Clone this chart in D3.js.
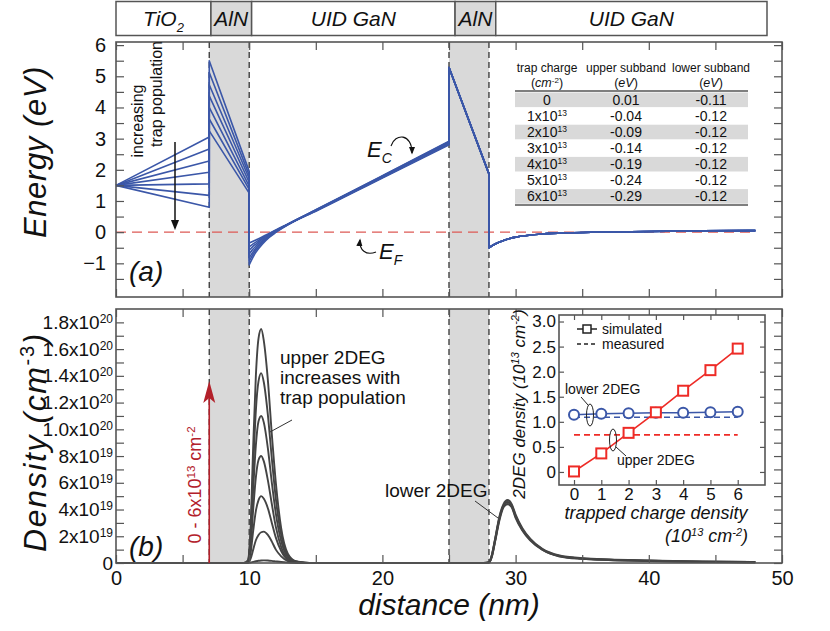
<!DOCTYPE html>
<html>
<head>
<meta charset="utf-8">
<script src="https://cdn.jsdelivr.net/npm/d3@7"></script>
<style>
  body { margin: 0; background: #fff; }
  svg text { font-family: "Liberation Sans", Arial, Helvetica, sans-serif; fill: #111; }
</style>
</head>
<body>
<svg id="chart" width="830" height="631"></svg>
<script>
// ---------- data ----------
const layerNames = ["TiO", "AlN", "UID GaN", "AlN", "UID GaN"];
const layerSubs = ["2", "", "", "", ""];
const layerEdges = [0, 7, 10, 25, 28, 48];
const alnLayers = [[7, 10], [25, 28]];
const interfaces = [7, 10, 25, 28];

// conduction band, one line per trap charge (x10^13 cm^-2)
const trapCharge = [0, 1, 2, 3, 4, 5, 6];
const ecStart = 1.5;
const ecTiO2End = [3.05, 2.67, 2.28, 1.92, 1.55, 1.18, 0.80];
const ecAlNStart = [5.50, 5.12, 4.73, 4.37, 4.00, 3.63, 3.25];
const ecAlNEnd = [1.95, 1.83, 1.72, 1.60, 1.48, 1.37, 1.25];
const xGaN1 = [10, 10.25, 10.5, 11, 11.5, 12, 13, 15, 20, 25];
const ecGaN1 = [
  [-0.35, -0.30, -0.25, -0.15, -0.04, 0.07, 0.28, 0.72, 1.81, 2.92],
  [-0.47, -0.39, -0.32, -0.18, -0.06, 0.06, 0.28, 0.71, 1.80, 2.90],
  [-0.58, -0.47, -0.38, -0.22, -0.08, 0.04, 0.28, 0.70, 1.79, 2.88],
  [-0.70, -0.56, -0.45, -0.26, -0.11, 0.03, 0.27, 0.70, 1.77, 2.86],
  [-0.82, -0.66, -0.52, -0.30, -0.13, 0.02, 0.27, 0.69, 1.76, 2.84],
  [-0.93, -0.74, -0.58, -0.34, -0.15, 0.01, 0.26, 0.68, 1.75, 2.82],
  [-1.05, -0.83, -0.65, -0.38, -0.17, -0.01, 0.26, 0.67, 1.74, 2.80]
];
const xAlN2 = [25, 28];
const ecAlN2 = [5.28, 1.87];
const xGaN2 = [28, 28.5, 29, 29.5, 30, 31, 32, 34, 36, 40, 44, 48];
const ecGaN2 = [-0.50, -0.37, -0.28, -0.21, -0.16, -0.10, -0.06, -0.02, 0.00, 0.02, 0.04, 0.05];

// subband table
const tableCharge = ["0", "1x10", "2x10", "3x10", "4x10", "5x10", "6x10"];
const tableChargeExp = ["", "13", "13", "13", "13", "13", "13"];
const upperSubband = ["0.01", "-0.04", "-0.09", "-0.14", "-0.19", "-0.24", "-0.29"];
const lowerSubband = ["-0.11", "-0.12", "-0.12", "-0.12", "-0.12", "-0.12", "-0.12"];

// electron density (x10^20 cm^-3)
const xDensUpper = [0, 9.6, 9.9, 10.1, 10.3, 10.5, 10.7, 10.9, 11.1, 11.4, 11.7, 12.0, 12.4, 12.9, 13.5, 14.5];
const densUpper = [
  [0, 0, 0, 0.003, 0.008, 0.013, 0.017, 0.019, 0.02, 0.019, 0.016, 0.012, 0.007, 0.003, 0.001, 0],
  [0, 0, 0.002, 0.03, 0.10, 0.17, 0.21, 0.23, 0.235, 0.21, 0.16, 0.10, 0.05, 0.015, 0.003, 0],
  [0, 0, 0.005, 0.07, 0.24, 0.39, 0.47, 0.50, 0.48, 0.41, 0.30, 0.19, 0.09, 0.025, 0.005, 0],
  [0, 0, 0.008, 0.12, 0.40, 0.64, 0.77, 0.80, 0.76, 0.62, 0.44, 0.27, 0.12, 0.032, 0.006, 0],
  [0, 0, 0.011, 0.165, 0.55, 0.88, 1.06, 1.10, 1.05, 0.86, 0.60, 0.37, 0.165, 0.044, 0.009, 0],
  [0, 0, 0.014, 0.21, 0.71, 1.14, 1.36, 1.42, 1.35, 1.11, 0.78, 0.48, 0.21, 0.057, 0.011, 0],
  [0, 0, 0.02, 0.26, 0.875, 1.40, 1.68, 1.75, 1.66, 1.37, 0.96, 0.60, 0.26, 0.07, 0.014, 0]
];
const xDensLower = [14.5, 27.6, 28.0, 28.2, 28.45, 28.8, 29.1, 29.4, 29.7, 30.0, 30.5, 31.1, 32, 33.3, 35, 37, 40, 44, 48];
const densLower = [
  [0, 0, 0.004, 0.045, 0.16, 0.33, 0.42, 0.44, 0.42, 0.34, 0.245, 0.17, 0.10, 0.05, 0.032, 0.023, 0.016, 0.009, 0.006],
  [0, 0, 0.0045, 0.048, 0.165, 0.34, 0.43, 0.455, 0.43, 0.35, 0.252, 0.175, 0.102, 0.052, 0.033, 0.024, 0.017, 0.0095, 0.0065],
  [0, 0, 0.005, 0.05, 0.17, 0.35, 0.44, 0.47, 0.44, 0.36, 0.26, 0.18, 0.105, 0.055, 0.035, 0.025, 0.018, 0.01, 0.007]
];
const densTickBase = ["0", "2x10", "4x10", "6x10", "8x10", "1.0x10", "1.2x10", "1.4x10", "1.6x10", "1.8x10"];
const densTickExp = ["", "19", "19", "19", "19", "20", "20", "20", "20", "20"];

// inset: 2DEG sheet density (x10^13 cm^-2)
const insetCharge = [0, 1, 2, 3, 4, 5, 6];
const upper2DEG = [0.01, 0.37, 0.78, 1.19, 1.62, 2.03, 2.46];
const lower2DEG = [1.14, 1.16, 1.17, 1.18, 1.18, 1.19, 1.20];
const measuredUpper = 0.74;
const measuredLower = 1.09;
const insetYTicks = ["0", "0.5", "1.0", "1.5", "2.0", "2.5", "3.0"];

// ---------- setup ----------
const svg = d3.select("#chart");
const FRAME = "#555";
const BLUE = "#3b57a8";
const GRAY = "#d9d9d9";

const x = d3.scaleLinear().domain([0, 50]).range([116, 782]);
const hx = d3.scaleLinear().domain([0, 48]).range([116, 767]);
const yE = d3.scaleLinear().domain([-2.08, 6.1]).range([297, 42]);
const yD = d3.scaleLinear().domain([0, 1.9]).range([563, 309]);
const ix = d3.scaleLinear().domain([-0.55, 7.0]).range([559, 765]);
const iy = d3.scaleLinear().domain([-0.26, 3.13]).range([485, 315]);

const defs = svg.append("defs");
defs.append("marker").attr("id", "ahead").attr("viewBox", "0 0 10 10")
  .attr("refX", 8).attr("refY", 5).attr("markerWidth", 7).attr("markerHeight", 7)
  .attr("orient", "auto")
  .append("path").attr("d", "M0,1L10,5L0,9z").attr("fill", "#111");

function plainTicks(g) {
  g.select(".domain").remove();
  g.selectAll(".tick line").attr("stroke", FRAME).attr("stroke-width", 1.2);
}

function frameAxes(gp, xs, ys, xVals, yVals, len) {
  gp.append("g").attr("transform", `translate(0,${ys.range()[1]})`)
    .call(d3.axisTop(xs).tickValues(xVals).tickSize(-len).tickFormat("")).call(plainTicks);
  gp.append("g").attr("transform", `translate(0,${ys.range()[0]})`)
    .call(d3.axisBottom(xs).tickValues(xVals).tickSize(-len).tickFormat("")).call(plainTicks);
  gp.append("g").attr("transform", `translate(${xs.range()[0]},0)`)
    .call(d3.axisLeft(ys).tickValues(yVals).tickSize(-len).tickFormat("")).call(plainTicks);
  gp.append("g").attr("transform", `translate(${xs.range()[1]},0)`)
    .call(d3.axisRight(ys).tickValues(yVals).tickSize(-len).tickFormat("")).call(plainTicks);
  gp.append("rect")
    .attr("x", xs.range()[0]).attr("y", ys.range()[1])
    .attr("width", xs.range()[1] - xs.range()[0]).attr("height", ys.range()[0] - ys.range()[1])
    .attr("fill", "none").attr("stroke", FRAME).attr("stroke-width", 1.6);
}

// ---------- header strip ----------
const head = svg.append("g");
layerNames.forEach((name, i) => {
  const x0 = hx(layerEdges[i]), x1 = hx(layerEdges[i + 1]);
  head.append("rect").attr("x", x0).attr("y", 1.5).attr("width", x1 - x0).attr("height", 34)
    .attr("fill", name === "AlN" ? GRAY : "#fff").attr("stroke", FRAME).attr("stroke-width", 1.5);
  const t = head.append("text").attr("x", (x0 + x1) / 2).attr("y", 26)
    .attr("text-anchor", "middle").attr("font-size", 21).attr("font-style", "italic").text(name);
  if (layerSubs[i]) t.append("tspan").attr("dy", 6).attr("font-size", 13).text(layerSubs[i]);
});

// ---------- panel (a): band diagram ----------
const pa = svg.append("g");
alnLayers.forEach(([a, b]) => {
  pa.append("rect").attr("x", x(a)).attr("y", yE.range()[1]).attr("width", x(b) - x(a))
    .attr("height", yE.range()[0] - yE.range()[1]).attr("fill", GRAY);
});
interfaces.forEach(v => {
  pa.append("line").attr("x1", x(v)).attr("x2", x(v)).attr("y1", yE.range()[1]).attr("y2", yE.range()[0])
    .attr("stroke", "#333").attr("stroke-width", 1.3).attr("stroke-dasharray", "6,4");
});
pa.append("line").attr("x1", x(0)).attr("x2", x(48)).attr("y1", yE(0)).attr("y2", yE(0))
  .attr("stroke", "#dd5a55").attr("stroke-width", 1.3).attr("stroke-dasharray", "10,6");

const lineLin = d3.line().x(d => x(d[0])).y(d => yE(d[1]));
const lineCurve = d3.line().x(d => x(d[0])).y(d => yE(d[1])).curve(d3.curveMonotoneX);
trapCharge.forEach((t, i) => {
  const part1 = [[0, ecStart], [7, ecTiO2End[i]], [7, ecAlNStart[i]], [10, ecAlNEnd[i]], [10, ecGaN1[i][0]]];
  const gan1 = xGaN1.map((v, j) => [v, ecGaN1[i][j]]);
  const part2 = [[25, ecGaN1[i][ecGaN1[i].length - 1]], [xAlN2[0], ecAlN2[0]], [xAlN2[1], ecAlN2[1]], [28, ecGaN2[0]]];
  const gan2 = xGaN2.map((v, j) => [v, ecGaN2[j]]);
  const d = lineLin(part1) + lineCurve(gan1).replace(/^M/, "L") +
    lineLin(part2).replace(/^M/, "L") + lineCurve(gan2).replace(/^M/, "L");
  pa.append("path").attr("d", d).attr("fill", "none").attr("stroke", BLUE)
    .attr("stroke-width", 1.6).attr("stroke-linejoin", "round");
});

frameAxes(pa, x, yE, d3.range(0, 51, 5), d3.range(-1.5, 6.01, 0.5), 8);
pa.append("g").attr("transform", `translate(${x(0)},0)`)
  .call(d3.axisLeft(yE).tickValues(d3.range(-1, 7)).tickSize(0).tickPadding(10).tickFormat(d3.format("d")))
  .call(g => g.select(".domain").remove())
  .call(g => g.selectAll("text").attr("font-size", 20).attr("font-family", null));

svg.append("text").attr("transform", "translate(46,152) rotate(-90)").attr("text-anchor", "middle")
  .attr("font-size", 31).attr("letter-spacing", 0.6).attr("font-style", "italic").text("Energy (eV)");
pa.append("text").attr("x", 129).attr("y", 281).attr("font-size", 28).attr("font-style", "italic").text("(a)");

pa.append("text").attr("transform", "translate(143,121) rotate(-90)").attr("text-anchor", "middle")
  .attr("font-size", 16).text("increasing");
pa.append("text").attr("transform", "translate(162,94) rotate(-90)").attr("text-anchor", "middle")
  .attr("font-size", 16).text("trap population");
pa.append("line").attr("x1", 175).attr("x2", 175).attr("y1", 142).attr("y2", 228)
  .attr("stroke", "#111").attr("stroke-width", 1.5).attr("marker-end", "url(#ahead)");

// E_C and E_F labels
const ec = pa.append("text").attr("x", 367).attr("y", 157).attr("font-size", 22).attr("font-style", "italic").text("E");
ec.append("tspan").attr("dy", 6).attr("font-size", 14).text("C");
pa.append("path").attr("d", "M391,146 C395,133 412,133 412,153").attr("fill", "none")
  .attr("stroke", "#111").attr("stroke-width", 1.1).attr("marker-end", "url(#ahead)");
const ef = pa.append("text").attr("x", 379).attr("y", 259).attr("font-size", 22).attr("font-style", "italic").text("E");
ef.append("tspan").attr("dy", 6).attr("font-size", 14).text("F");
pa.append("path").attr("d", "M376,252 C366,256 359,250 360,240").attr("fill", "none")
  .attr("stroke", "#111").attr("stroke-width", 1.1).attr("marker-end", "url(#ahead)");

// subband table
const tb = pa.append("g");
const colX = [547, 626, 711];
const rowTop = 92.5, rowH = 16.1;
["trap charge", "upper subband", "lower subband"].forEach((s, k) =>
  tb.append("text").attr("x", colX[k]).attr("y", 72).attr("text-anchor", "middle").attr("font-size", 12).text(s));
const u0 = tb.append("text").attr("x", colX[0]).attr("y", 87).attr("text-anchor", "middle").attr("font-size", 12.5);
u0.append("tspan").text("(");
u0.append("tspan").attr("font-style", "italic").text("cm");
u0.append("tspan").attr("dy", -4).attr("font-size", 8).text("-2");
u0.append("tspan").attr("dy", 4).text(")");
[1, 2].forEach(k => {
  const u = tb.append("text").attr("x", colX[k]).attr("y", 87).attr("text-anchor", "middle").attr("font-size", 12.5);
  u.append("tspan").text("(");
  u.append("tspan").attr("font-style", "italic").text("eV");
  u.append("tspan").text(")");
});
tableCharge.forEach((c, i) => {
  if (i % 2 === 0) {
    tb.append("rect").attr("x", 515).attr("y", rowTop + i * rowH).attr("width", 233).attr("height", rowH - 1.5)
      .attr("fill", GRAY);
  }
  const base = rowTop + i * rowH + 12;
  const t = tb.append("text").attr("x", colX[0]).attr("y", base).attr("text-anchor", "middle").attr("font-size", 14).text(c);
  if (tableChargeExp[i]) t.append("tspan").attr("dy", -5).attr("font-size", 8.5).text(tableChargeExp[i]);
  tb.append("text").attr("x", colX[1]).attr("y", base).attr("text-anchor", "middle").attr("font-size", 14).text(upperSubband[i]);
  tb.append("text").attr("x", colX[2]).attr("y", base).attr("text-anchor", "middle").attr("font-size", 14).text(lowerSubband[i]);
});
[91, 205].forEach(yy => tb.append("line").attr("x1", 515).attr("x2", 748).attr("y1", yy).attr("y2", yy)
  .attr("stroke", "#555").attr("stroke-width", 1.5));

// ---------- panel (b): electron density ----------
const pb = svg.append("g");
alnLayers.forEach(([a, b]) => {
  pb.append("rect").attr("x", x(a)).attr("y", yD.range()[1]).attr("width", x(b) - x(a))
    .attr("height", yD.range()[0] - yD.range()[1]).attr("fill", GRAY);
});
interfaces.forEach(v => {
  pb.append("line").attr("x1", x(v)).attr("x2", x(v)).attr("y1", yD.range()[1]).attr("y2", yD.range()[0])
    .attr("stroke", "#333").attr("stroke-width", 1.3).attr("stroke-dasharray", "6,4");
});

const densLine = d3.line().x(d => x(d[0])).y(d => yD(d[1])).curve(d3.curveMonotoneX);
densLower.forEach(arr => {
  pb.append("path").attr("d", densLine(xDensLower.map((v, j) => [v, arr[j]])))
    .attr("fill", "none").attr("stroke", "#444").attr("stroke-width", 2.2);
});
densUpper.forEach(arr => {
  pb.append("path").attr("d", densLine(xDensUpper.map((v, j) => [v, arr[j]])))
    .attr("fill", "none").attr("stroke", "#444").attr("stroke-width", 1.9);
});

frameAxes(pb, x, yD, d3.range(0, 51, 5), d3.range(0, 19).map(k => k / 10), 8);
pb.append("g").attr("transform", `translate(0,${yD(0)})`)
  .call(d3.axisBottom(x).tickValues(d3.range(0, 51, 10)).tickSize(0).tickPadding(8))
  .call(g => g.select(".domain").remove())
  .call(g => g.selectAll("text").attr("font-size", 20).attr("font-family", null));
pb.append("g").attr("transform", `translate(${x(0)},0)`)
  .call(d3.axisLeft(yD).tickValues(d3.range(0, 10).map(k => k / 5)).tickSize(0).tickPadding(3).tickFormat(""))
  .call(g => g.select(".domain").remove())
  .call(g => g.selectAll(".tick text").each(function (d, i) {
    const t = d3.select(this).attr("font-size", 19).attr("font-family", null);
    t.append("tspan").text(densTickBase[i]);
    if (densTickExp[i]) t.append("tspan").attr("dy", "-0.5em").attr("font-size", 12).text(densTickExp[i]);
  }));

const dl = svg.append("text").attr("transform", "translate(46,442) rotate(-90)").attr("text-anchor", "middle")
  .attr("font-size", 32).attr("letter-spacing", 1.6).attr("font-style", "italic");
dl.append("tspan").text("Density (cm");
dl.append("tspan").attr("dy", -12).attr("font-size", 20).attr("font-style", "normal").text("-3");
dl.append("tspan").attr("dy", 12).text(")");
svg.append("text").attr("x", 449).attr("y", 615).attr("text-anchor", "middle")
  .attr("font-size", 30).attr("font-style", "italic").text("distance (nm)");
pb.append("text").attr("x", 129).attr("y", 556).attr("font-size", 28).attr("font-style", "italic").text("(b)");

// red arrow: trap charge range
pb.append("line").attr("x1", x(7)).attr("x2", x(7)).attr("y1", yD(0)).attr("y2", 398)
  .attr("stroke", "#b3202a").attr("stroke-width", 1.6);
pb.append("path").attr("d", `M${x(7)},381 L${x(7) + 6},403 L${x(7)},398 L${x(7) - 6},403 Z`).attr("fill", "#b3202a");
const rt = pb.append("text").attr("transform", "translate(201,485) rotate(-90)").attr("text-anchor", "middle")
  .attr("font-size", 18);
rt.append("tspan").style("fill", "#b3202a").text("0 - 6x10");
rt.append("tspan").style("fill", "#b3202a").attr("dy", -6).attr("font-size", 11.5).text("13");
rt.append("tspan").style("fill", "#b3202a").attr("dy", 6).text(" cm");
rt.append("tspan").style("fill", "#b3202a").attr("dy", -6).attr("font-size", 11.5).text("-2");

// annotations
["upper 2DEG", "increases with", "trap population"].forEach((s, k) =>
  pb.append("text").attr("x", 280).attr("y", 364 + 20 * k).attr("font-size", 19).text(s));
pb.append("line").attr("x1", 292).attr("y1", 420).attr("x2", 270).attr("y2", 432).attr("stroke", "#333").attr("stroke-width", 1);
pb.append("text").attr("x", 385).attr("y", 497).attr("font-size", 19).text("lower 2DEG");
pb.append("line").attr("x1", 475).attr("y1", 501).attr("x2", 498).attr("y2", 518).attr("stroke", "#333").attr("stroke-width", 1);

// ---------- inset ----------
const ins = svg.append("g");
ins.append("rect").attr("x", ix.range()[0]).attr("y", iy.range()[1])
  .attr("width", ix.range()[1] - ix.range()[0]).attr("height", iy.range()[0] - iy.range()[1]).attr("fill", "#fff");

ins.append("line").attr("x1", ix(0)).attr("x2", ix(6)).attr("y1", iy(measuredLower)).attr("y2", iy(measuredLower))
  .attr("stroke", BLUE).attr("stroke-width", 1.6).attr("stroke-dasharray", "6,4");
ins.append("line").attr("x1", ix(0)).attr("x2", ix(6)).attr("y1", iy(measuredUpper)).attr("y2", iy(measuredUpper))
  .attr("stroke", "#ee2b26").attr("stroke-width", 1.6).attr("stroke-dasharray", "6,4");

const insLine = d3.line().x((d, i) => ix(insetCharge[i])).y(d => iy(d));
ins.append("path").attr("d", insLine(lower2DEG)).attr("fill", "none").attr("stroke", BLUE).attr("stroke-width", 1.6);
ins.append("path").attr("d", insLine(upper2DEG)).attr("fill", "none").attr("stroke", "#ee2b26").attr("stroke-width", 1.6);
ins.selectAll("circle.lo").data(lower2DEG).join("circle").attr("class", "lo")
  .attr("cx", (d, i) => ix(insetCharge[i])).attr("cy", d => iy(d)).attr("r", 5)
  .attr("fill", "#fff").attr("stroke", BLUE).attr("stroke-width", 2);
ins.selectAll("rect.up").data(upper2DEG).join("rect").attr("class", "up")
  .attr("x", (d, i) => ix(insetCharge[i]) - 5).attr("y", d => iy(d) - 5).attr("width", 10).attr("height", 10)
  .attr("fill", "#fff").attr("stroke", "#ee2b26").attr("stroke-width", 2);

frameAxes(ins, ix, iy, insetCharge, d3.range(0, 3.01, 0.5), 5);
ins.append("g").attr("transform", `translate(0,${iy.range()[0]})`)
  .call(d3.axisBottom(ix).tickValues(insetCharge).tickSize(0).tickPadding(3).tickFormat(d3.format("d")))
  .call(g => g.select(".domain").remove())
  .call(g => g.selectAll("text").attr("font-size", 17).attr("font-family", null));
ins.append("g").attr("transform", `translate(${ix.range()[0]},0)`)
  .call(d3.axisLeft(iy).tickValues(d3.range(0, 3.01, 0.5)).tickSize(0).tickPadding(3).tickFormat((d, i) => insetYTicks[i]))
  .call(g => g.select(".domain").remove())
  .call(g => g.selectAll("text").attr("font-size", 17).attr("font-family", null));

// inset legend
ins.append("line").attr("x1", 577).attr("x2", 597).attr("y1", 329).attr("y2", 329).attr("stroke", "#222").attr("stroke-width", 1.5);
ins.append("rect").attr("x", 583).attr("y", 325).attr("width", 8).attr("height", 8).attr("fill", "#fff").attr("stroke", "#222").attr("stroke-width", 1.5);
ins.append("text").attr("x", 602).attr("y", 334).attr("font-size", 14).text("simulated");
ins.append("line").attr("x1", 577).attr("x2", 597).attr("y1", 344).attr("y2", 344).attr("stroke", "#222")
  .attr("stroke-width", 1.5).attr("stroke-dasharray", "4,3");
ins.append("text").attr("x", 602).attr("y", 349).attr("font-size", 14).text("measured");

// inset annotations
ins.append("ellipse").attr("cx", 590).attr("cy", 415).attr("rx", 3.5).attr("ry", 11).attr("fill", "none").attr("stroke", "#222");
ins.append("line").attr("x1", 588).attr("y1", 405).attr("x2", 581).attr("y2", 397).attr("stroke", "#222");
ins.append("text").attr("x", 565).attr("y", 394).attr("font-size", 14).text("lower 2DEG");
ins.append("ellipse").attr("cx", 613).attr("cy", 440).attr("rx", 3.5).attr("ry", 11).attr("fill", "none").attr("stroke", "#222");
ins.append("line").attr("x1", 616).attr("y1", 447).attr("x2", 626).attr("y2", 456).attr("stroke", "#222");
ins.append("text").attr("x", 617).attr("y", 465).attr("font-size", 14).text("upper 2DEG");

// inset axis titles
const iyt = ins.append("text").attr("transform", "translate(525,404) rotate(-90)").attr("text-anchor", "middle")
  .attr("font-size", 17).attr("font-style", "italic");
iyt.append("tspan").text("2DEG density (10");
iyt.append("tspan").attr("dy", -6).attr("font-size", 11).text("13");
iyt.append("tspan").attr("dy", 6).text(" cm");
iyt.append("tspan").attr("dy", -6).attr("font-size", 11).text("-2");
iyt.append("tspan").attr("dy", 6).text(")");
ins.append("text").attr("x", 656).attr("y", 519).attr("text-anchor", "middle").attr("font-size", 18)
  .attr("font-style", "italic").text("trapped charge density");
const ixt = ins.append("text").attr("x", 665).attr("y", 542).attr("font-size", 18).attr("font-style", "italic");
ixt.append("tspan").text("(10");
ixt.append("tspan").attr("dy", -6).attr("font-size", 11).text("13");
ixt.append("tspan").attr("dy", 6).text(" cm");
ixt.append("tspan").attr("dy", -6).attr("font-size", 11).text("-2");
ixt.append("tspan").attr("dy", 6).text(")");
</script>
</body>
</html>
